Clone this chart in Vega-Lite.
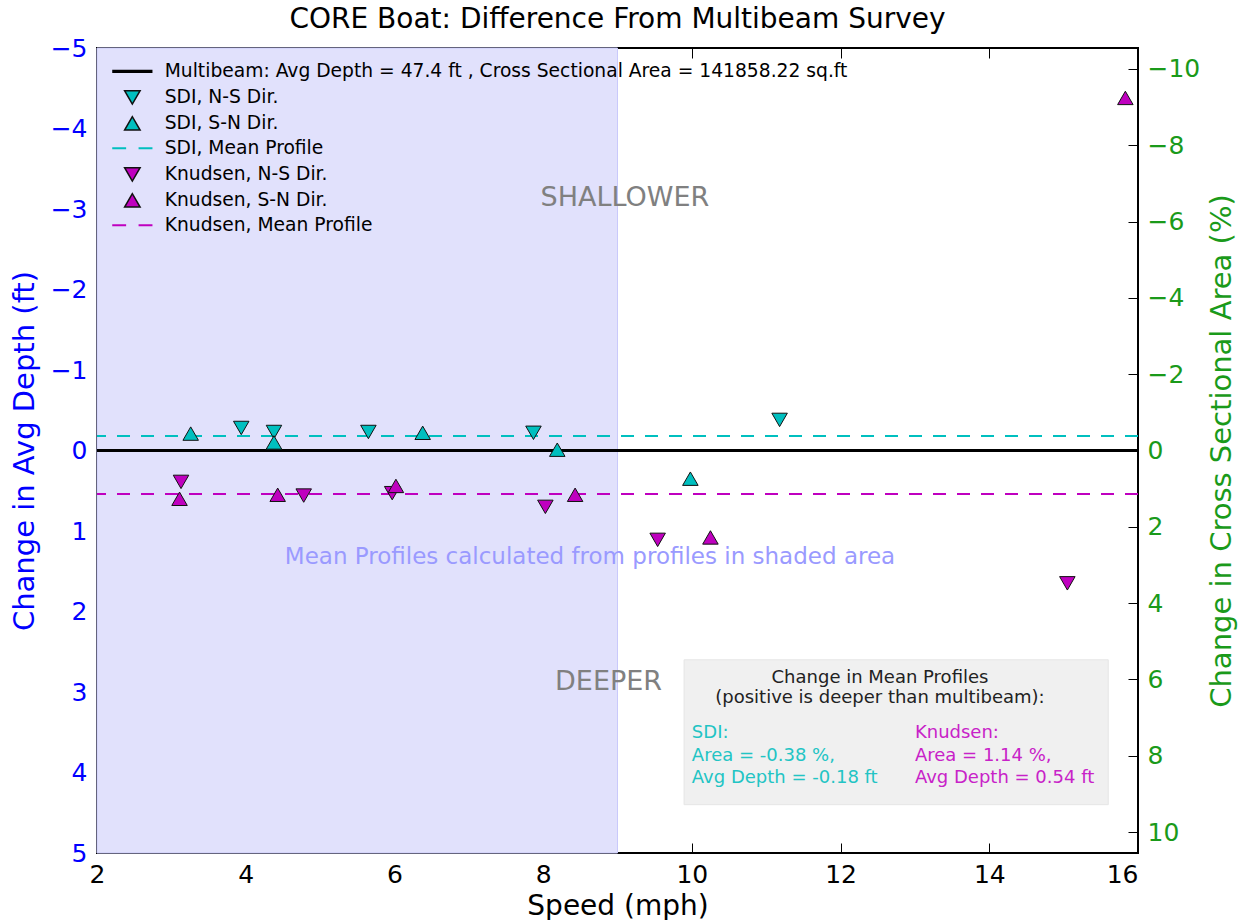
{
  "$schema": "https://vega.github.io/schema/vega-lite/v6.json",
  "width": 1041,
  "height": 805,
  "autosize": {"type": "none"},
  "padding": {"left": 97, "top": 48, "right": 106, "bottom": 67},
  "title": {"text": "CORE Boat: Difference From Multibeam Survey", "fontSize": 28, "font": "DejaVu Sans", "fontWeight": "normal", "color": "black", "anchor": "middle", "offset": 2},
  "config": {
    "view": {"stroke": "black", "strokeWidth": 2},
    "font": "DejaVu Sans",
    "axis": {"grid": false, "domain": false, "tickColor": "black", "tickSize": -10, "tickWidth": 1, "labelFont": "DejaVu Sans", "titleFont": "DejaVu Sans", "labelFontSize": 25, "titleFontSize": 29, "titleFontWeight": "normal"}
  },
  "datasets": {
    "shade": [{"x1": 2, "x2": 9}],
    "zero": [{"pct": 0}],
    "box": [{"x1": 9.895, "x2": 15.6, "y1": 2.6, "y2": 4.4}],
    "multibeam": [{"series": "Multibeam: Avg Depth = 47.4 ft , Cross Sectional Area = 141858.22 sq.ft", "depth": 0}],
    "means": [
      {"series": "SDI, Mean Profile", "depth": -0.18},
      {"series": "Knudsen, Mean Profile", "depth": 0.54}
    ],
    "points": [
      {"series": "SDI, N-S Dir.", "speed": 3.94, "depth": -0.28},
      {"series": "SDI, N-S Dir.", "speed": 4.38, "depth": -0.23},
      {"series": "SDI, N-S Dir.", "speed": 5.65, "depth": -0.23},
      {"series": "SDI, N-S Dir.", "speed": 7.87, "depth": -0.22},
      {"series": "SDI, N-S Dir.", "speed": 11.18, "depth": -0.38},
      {"series": "SDI, S-N Dir.", "speed": 3.26, "depth": -0.21},
      {"series": "SDI, S-N Dir.", "speed": 4.38, "depth": -0.10},
      {"series": "SDI, S-N Dir.", "speed": 6.38, "depth": -0.22},
      {"series": "SDI, S-N Dir.", "speed": 8.19, "depth": -0.01},
      {"series": "SDI, S-N Dir.", "speed": 9.98, "depth": 0.35},
      {"series": "Knudsen, N-S Dir.", "speed": 3.13, "depth": 0.39},
      {"series": "Knudsen, N-S Dir.", "speed": 4.78, "depth": 0.56},
      {"series": "Knudsen, N-S Dir.", "speed": 5.97, "depth": 0.53},
      {"series": "Knudsen, N-S Dir.", "speed": 8.03, "depth": 0.70},
      {"series": "Knudsen, N-S Dir.", "speed": 9.54, "depth": 1.11},
      {"series": "Knudsen, N-S Dir.", "speed": 15.05, "depth": 1.65},
      {"series": "Knudsen, S-N Dir.", "speed": 3.11, "depth": 0.60},
      {"series": "Knudsen, S-N Dir.", "speed": 4.43, "depth": 0.55},
      {"series": "Knudsen, S-N Dir.", "speed": 6.02, "depth": 0.44},
      {"series": "Knudsen, S-N Dir.", "speed": 8.43, "depth": 0.55},
      {"series": "Knudsen, S-N Dir.", "speed": 10.25, "depth": 1.08},
      {"series": "Knudsen, S-N Dir.", "speed": 15.83, "depth": -4.38}
    ],
    "regions": [
      {"label": "SHALLOWER", "speed": 9.1, "depth": -3.14},
      {"label": "DEEPER", "speed": 8.88, "depth": 2.88}
    ],
    "note": [{"label": "Mean Profiles calculated from profiles in shaded area", "speed": 8.63, "depth": 1.32}],
    "header": [
      {"label": "Change in Mean Profiles", "speed": 12.53, "depth": 2.89},
      {"label": "(positive is deeper than multibeam):", "speed": 12.53, "depth": 3.14}
    ],
    "sdiText": [
      {"label": "SDI:", "speed": 10.0, "depth": 3.575},
      {"label": "Area = -0.38 %,", "speed": 10.0, "depth": 3.86},
      {"label": "Avg Depth = -0.18 ft", "speed": 10.0, "depth": 4.13}
    ],
    "knText": [
      {"label": "Knudsen:", "speed": 13.0, "depth": 3.575},
      {"label": "Area = 1.14 %,", "speed": 13.0, "depth": 3.86},
      {"label": "Avg Depth = 0.54 ft", "speed": 13.0, "depth": 4.13}
    ]
  },
  "layer": [
    {
      "layer": [
        {
          "data": {"name": "shade"},
          "mark": {"type": "rect", "fill": "#e1e1fc", "stroke": "#c9c9fb", "strokeWidth": 1},
          "encoding": {
            "x": {"field": "x1", "type": "quantitative", "scale": {"domain": [2, 16], "nice": false, "zero": false},
                  "axis": {"orient": "top", "labels": false, "title": null, "values": [2, 4, 6, 8, 10, 12, 14, 16]}},
            "x2": {"field": "x2"}
          }
        },
        {
          "data": {"name": "zero"},
          "mark": {"type": "rule", "stroke": "black", "strokeWidth": 3},
          "encoding": {
            "y": {"field": "pct", "type": "quantitative", "scale": {"domain": [-10.55, 10.55], "reverse": true, "nice": false, "zero": false},
                  "axis": {"orient": "right", "format": "d", "values": [-10, -8, -6, -4, -2, 0, 2, 4, 6, 8, 10], "title": "Change in Cross Sectional Area (%)", "titleAngle": 270, "titleBaseline": "top", "labelColor": "#1a9a1a", "titleColor": "#1a9a1a", "labelPadding": 19, "titlePadding": 8}}
          }
        }
      ]
    },
    {
      "layer": [
        {
          "data": {"name": "box"},
          "mark": {"type": "rect", "fill": "#f0f0f0", "stroke": "#e6e6e6"},
          "encoding": {
            "x": {"field": "x1", "type": "quantitative", "scale": {"domain": [2, 16], "nice": false, "zero": false},
                  "axis": {"orient": "bottom", "format": "d", "title": "Speed (mph)", "titleFontSize": 28, "values": [2, 4, 6, 8, 10, 12, 14, 16], "labelFlush": false, "labelAlign": {"condition": {"test": "datum.value >= 16", "value": "right"}, "value": "center"}, "labelColor": "black", "titleColor": "black", "labelPadding": 19, "titlePadding": 5}},
            "x2": {"field": "x2"},
            "y": {"field": "y1", "type": "quantitative", "scale": {"domain": [-5, 5], "reverse": true, "nice": false, "zero": false},
                  "axis": {"orient": "left", "format": "d", "title": "Change in Avg Depth (ft)", "values": [-5, -4, -3, -2, -1, 0, 1, 2, 3, 4, 5], "labelColor": "#0000ff", "titleColor": "#0000ff", "labelPadding": 20, "titlePadding": 11}},
            "y2": {"field": "y2"}
          }
        },
        {
          "data": {"name": "multibeam"},
          "mark": {"type": "rule", "strokeWidth": 3},
          "encoding": {
            "y": {"field": "depth", "type": "quantitative"},
            "stroke": {"field": "series", "type": "nominal"}
          }
        },
        {
          "data": {"name": "means"},
          "mark": {"type": "rule", "strokeWidth": 2, "strokeDash": [13, 11]},
          "encoding": {
            "y": {"field": "depth", "type": "quantitative"},
            "stroke": {"field": "series", "type": "nominal"}
          }
        },
        {
          "data": {"name": "points"},
          "mark": {"type": "point", "filled": true, "opacity": 1, "size": 240, "strokeWidth": 1},
          "encoding": {
            "x": {"field": "speed", "type": "quantitative"},
            "y": {"field": "depth", "type": "quantitative"},
            "fill": {"field": "series", "type": "nominal",
              "scale": {"domain": ["Multibeam: Avg Depth = 47.4 ft , Cross Sectional Area = 141858.22 sq.ft", "SDI, N-S Dir.", "SDI, S-N Dir.", "SDI, Mean Profile", "Knudsen, N-S Dir.", "Knudsen, S-N Dir.", "Knudsen, Mean Profile"],
                        "range": ["black", "#00bfbf", "#00bfbf", "#00bfbf", "#bf00bf", "#bf00bf", "#bf00bf"]},
              "legend": {"orient": "none", "legendX": 26, "legendY": 14, "title": null, "labelFont": "DejaVu Sans", "labelFontSize": 18.7, "labelColor": "black", "labelLimit": 1000, "labelOffset": 23, "rowPadding": 5, "symbolOpacity": 1, "symbolSize": 240}},
            "stroke": {"field": "series", "type": "nominal",
              "scale": {"domain": ["Multibeam: Avg Depth = 47.4 ft , Cross Sectional Area = 141858.22 sq.ft", "SDI, N-S Dir.", "SDI, S-N Dir.", "SDI, Mean Profile", "Knudsen, N-S Dir.", "Knudsen, S-N Dir.", "Knudsen, Mean Profile"],
                        "range": ["black", "#111111", "#111111", "#00bfbf", "#111111", "#111111", "#bf00bf"]}},
            "shape": {"field": "series", "type": "nominal",
              "scale": {"domain": ["Multibeam: Avg Depth = 47.4 ft , Cross Sectional Area = 141858.22 sq.ft", "SDI, N-S Dir.", "SDI, S-N Dir.", "SDI, Mean Profile", "Knudsen, N-S Dir.", "Knudsen, S-N Dir.", "Knudsen, Mean Profile"],
                        "range": ["M-2.5,-0.1H2.5V0.1H-2.5Z", "triangle-down", "triangle-up", "M-2.5,-0.035H-0.9V0.035H-2.5ZM0.9,-0.035H2.5V0.035H0.9Z", "triangle-down", "triangle-up", "M-2.5,-0.035H-0.9V0.035H-2.5ZM0.9,-0.035H2.5V0.035H0.9Z"]}}
          }
        },
        {
          "data": {"name": "regions"},
          "mark": {"type": "text", "fontSize": 27, "color": "#808080", "align": "center", "baseline": "middle"},
          "encoding": {
            "x": {"field": "speed", "type": "quantitative"},
            "y": {"field": "depth", "type": "quantitative"},
            "text": {"field": "label"}
          }
        },
        {
          "data": {"name": "note"},
          "mark": {"type": "text", "fontSize": 23, "color": "#9a9aff", "align": "center", "baseline": "middle"},
          "encoding": {
            "x": {"field": "speed", "type": "quantitative"},
            "y": {"field": "depth", "type": "quantitative"},
            "text": {"field": "label"}
          }
        },
        {
          "data": {"name": "header"},
          "mark": {"type": "text", "fontSize": 18, "color": "#222222", "align": "center", "baseline": "alphabetic"},
          "encoding": {
            "x": {"field": "speed", "type": "quantitative"},
            "y": {"field": "depth", "type": "quantitative"},
            "text": {"field": "label"}
          }
        },
        {
          "data": {"name": "sdiText"},
          "mark": {"type": "text", "fontSize": 18, "color": "#22c4c4", "align": "left", "baseline": "alphabetic"},
          "encoding": {
            "x": {"field": "speed", "type": "quantitative"},
            "y": {"field": "depth", "type": "quantitative"},
            "text": {"field": "label"}
          }
        },
        {
          "data": {"name": "knText"},
          "mark": {"type": "text", "fontSize": 18, "color": "#c822c8", "align": "left", "baseline": "alphabetic"},
          "encoding": {
            "x": {"field": "speed", "type": "quantitative"},
            "y": {"field": "depth", "type": "quantitative"},
            "text": {"field": "label"}
          }
        }
      ]
    }
  ],
  "resolve": {"scale": {"y": "independent"}, "axis": {"x": "independent", "y": "independent"}}
}
